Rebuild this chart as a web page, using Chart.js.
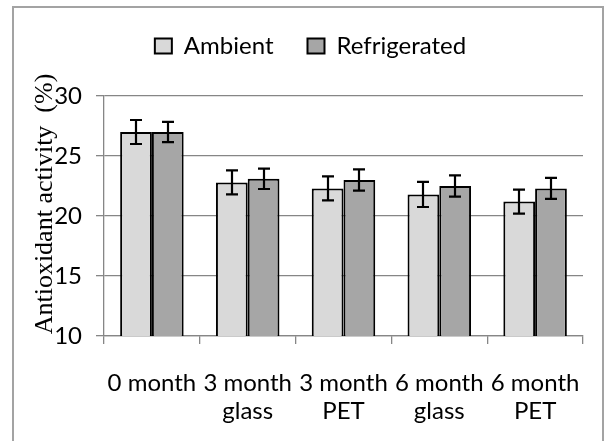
<!DOCTYPE html>
<html>
<head>
<meta charset="utf-8">
<script src="https://cdn.jsdelivr.net/npm/chart.js@4"></script>
<style>
  body { margin: 0; background: #fff; }
  #wrap { position: relative; width: 610px; height: 441px; overflow: hidden; }
  #frame { position: absolute; left: 12px; top: 6px; width: 588px; height: 460px; border: 2px solid #a3a3a3; }
  canvas { position: absolute; left: 0; top: 0; }
</style>
</head>
<body>
<div id="wrap">
  <div id="frame"></div>
  <canvas id="chart" width="610" height="441"></canvas>
</div>
<script>
// data
var categories = [['0 month'], ['3 month', 'glass'], ['3 month', 'PET'], ['6 month', 'glass'], ['6 month', 'PET']];
var ambient = [27.0, 22.8, 22.3, 21.8, 21.2];
var refrigerated = [27.0, 23.1, 23.0, 22.5, 22.3];
var ambientErr = [1.0, 1.0, 1.0, 1.05, 1.0];
var refrigeratedErr = [0.85, 0.85, 0.88, 0.88, 0.87];
var yTicks = [10, 15, 20, 25, 30];

var sansFont = 'Lato, "Open Sans", sans-serif';

// draws the error bars from the value scale
var errorBars = {
    id: 'errorBars',
    afterDatasetsDraw: function(chart) {
        var ctx = chart.ctx;
        var yScale = chart.scales.y;
        ctx.save();
        ctx.strokeStyle = '#000';
        ctx.lineWidth = 2.2;
        chart.data.datasets.forEach(function(ds, i) {
            var meta = chart.getDatasetMeta(i);
            meta.data.forEach(function(bar, j) {
                var v = ds.data[j], e = ds.errors[j];
                var top = yScale.getPixelForValue(v + e);
                var bot = yScale.getPixelForValue(v - e);
                var x = Math.round(bar.x);
                var w = 6;
                ctx.beginPath();
                ctx.moveTo(x, top); ctx.lineTo(x, bot);
                ctx.moveTo(x - w, top); ctx.lineTo(x + w, top);
                ctx.moveTo(x - w, bot); ctx.lineTo(x + w, bot);
                ctx.stroke();
            });
        });
        ctx.restore();
    }
};

// rotated y axis title, placed like the original
var yTitle = {
    id: 'yTitle',
    afterDraw: function(chart) {
        var ctx = chart.ctx;
        ctx.save();
        ctx.translate(52, 204);
        ctx.rotate(-Math.PI / 2);
        ctx.font = '26px "Liberation Serif", "Times New Roman", serif';
        ctx.fillStyle = '#000';
        ctx.textAlign = 'center';
        ctx.textBaseline = 'alphabetic';
        ctx.fillText('Antioxidant activity  (%)', 0, 0);
        ctx.restore();
    }
};

// leave room under the legend, as in the original
var legendSpace = {
    id: 'legendSpace',
    beforeInit: function(chart) {
        var fit = chart.legend.fit;
        chart.legend.fit = function() {
            fit.call(this);
            this.height = 96;
        };
    }
};

var ctx = document.getElementById('chart').getContext('2d');
var chart = new Chart(ctx, {
    type: 'bar',
    data: {
        labels: categories,
        datasets: [{
            label: 'Ambient',
            data: ambient,
            errors: ambientErr,
            backgroundColor: '#d9d9d9',
            borderColor: '#000',
            borderWidth: 2
        }, {
            label: 'Refrigerated',
            data: refrigerated,
            errors: refrigeratedErr,
            backgroundColor: '#a6a6a6',
            borderColor: '#000',
            borderWidth: 2
        }]
    },
    options: {
        responsive: false,
        devicePixelRatio: 1,
        animation: false,
        categoryPercentage: 0.663,
        barPercentage: 1.0,
        layout: {
            padding: { left: 38, right: 27, top: 0, bottom: 0 }
        },
        plugins: {
            legend: {
                position: 'top',
                labels: {
                    color: '#000',
                    font: { family: sansFont, size: 24 },
                    boxWidth: 17,
                    boxHeight: 15,
                    padding: 34
                }
            },
            tooltip: { enabled: false }
        },
        scales: {
            x: {
                grid: {
                    drawOnChartArea: false,
                    drawTicks: true,
                    tickLength: 8,
                    color: '#868686',
                    lineWidth: 1.3
                },
                border: { color: '#868686', width: 1.3 },
                ticks: {
                    color: '#000',
                    font: { family: sansFont, size: 24, lineHeight: 1.17 },
                    padding: 25,
                    maxRotation: 0,
                    autoSkip: false
                },
                afterFit: function(scale) { scale.height = 105; }
            },
            y: {
                min: 10,
                max: 30,
                afterBuildTicks: function(scale) {
                    scale.ticks = yTicks.map(function(v) { return { value: v }; });
                },
                grid: {
                    color: '#868686',
                    lineWidth: 1.3,
                    tickLength: 8
                },
                border: { color: '#868686', width: 1.3 },
                ticks: {
                    color: '#000',
                    font: { family: sansFont, size: 24 },
                    padding: 14
                },
                afterFit: function(scale) { scale.width = 66; }
            }
        }
    },
    plugins: [errorBars, yTitle, legendSpace]
});
</script>
</body>
</html>
